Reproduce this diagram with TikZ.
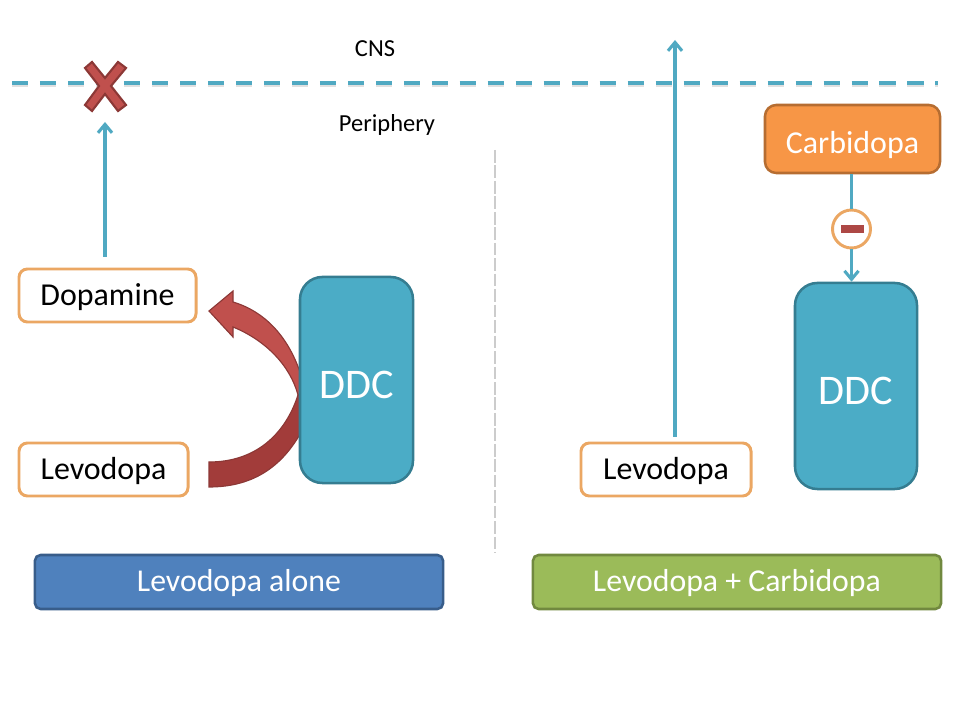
\documentclass[tikz,border=0pt]{standalone}
\usepackage{fontspec}
\setmainfont{Carlito}
\usepackage{xcolor}
\usetikzlibrary{arrows.meta}
\definecolor{tealfill}{HTML}{4BACC6}
\definecolor{tealline}{HTML}{50A9C2}
\definecolor{tealdark}{HTML}{357D91}
\definecolor{labelline}{HTML}{EBA763}
\definecolor{redfill}{HTML}{C0504D}
\definecolor{reddark}{HTML}{8C3836}
\definecolor{redlow}{HTML}{A23C3A}
\definecolor{bluefill}{HTML}{4F81BD}
\definecolor{bluedark}{HTML}{385D8A}
\definecolor{greenfill}{HTML}{9BBB59}
\definecolor{greendark}{HTML}{71893F}
\definecolor{orangefill}{HTML}{F79646}
\definecolor{orangedark}{HTML}{B66D31}
\tikzset{
    labelbox/.style={draw=labelline,line width=2.1pt,fill=white,rounded corners=6pt,font=\fontsize{22.7}{26}\selectfont,text height=18pt,text depth=3.2pt,minimum height=1.325cm,inner sep=0pt},
    enzyme/.style={draw=tealdark,line width=1.8pt,fill=tealfill,rounded corners=16pt,text=white,font=\fontsize{30}{34}\selectfont,text height=26pt,text depth=0pt,minimum height=5.15cm,inner sep=0pt},
    banner/.style={line width=1.8pt,rounded corners=4pt,text=white,minimum width=10.2cm,minimum height=1.35cm,font=\fontsize{22.6}{26}\selectfont,text height=17.5pt,text depth=3.3pt,inner sep=0pt},
    flow/.style={draw=tealline,line width=2.4pt,-{Straight Barb[length=6pt,width=10pt,line width=2.2pt]}},
    caption/.style={font=\fontsize{17.4}{20}\selectfont,inner sep=0pt,anchor=base}
}
\begin{document}
\begin{tikzpicture}[x=.025cm,y=-.025cm]
    \useasboundingbox (0,0) rectangle (960,720);
    \coordinate (barrierL) at (12,83);
    \coordinate (barrierR) at (938,83);
    \coordinate (stopbelow) at (105,122);
    \coordinate (stopstart) at (105,257);
    \coordinate (cnsstart) at (675,437);
    \coordinate (cnsend) at (675,40);
    \draw[black!40,line width=2.6pt,opacity=.3,dash pattern=on 11.5pt off 8.4pt] ([yshift=-1.3pt]barrierL) -- ([yshift=-1.3pt]barrierR);
    \draw[tealline,line width=2.8pt,dash pattern=on 11.5pt off 8.4pt] (barrierL) -- (barrierR);
    \node[caption] (cns) at (375,57) {CNS};
    \node[caption] (periphery) at (387,132) {Periphery};
    \draw[black!20,line width=.8pt,dash pattern=on 9pt off 2pt] (495,150) -- (495,553);
    % left side
    \node[labelbox,minimum width=4.425cm] (dopamine) at (107.5,295.5) {Dopamine};
    \node[labelbox,minimum width=4.225cm] (levodopaA) at (103.5,469.5) {Levodopa};
    \draw[flow] (stopstart) -- (stopbelow);
    \draw[fill=redfill,draw=reddark,line width=1.5pt] (92,62) -- (105,78) -- (118,62) -- (126,68) -- (111,86) -- (126,105) -- (118,111) -- (105,94) -- (92,111) -- (85,105) -- (99,86) -- (85,68) -- cycle;
    \draw[fill=redlow,draw=reddark,line width=.8pt] (209,462) .. controls (255,462) and (285,435) .. (298,395) -- (305,395) -- (305,425) .. controls (285,465) and (255,487) .. (209,487) -- cycle;
    \draw[fill=redfill,draw=reddark,line width=.8pt] (298,395) .. controls (290,365) and (265,340) .. (233,327) -- (233,337) -- (209,311) -- (233,291) -- (233,302) .. controls (270,313) and (295,345) .. (305,390) -- cycle;
    \node[enzyme,minimum width=2.825cm] (ddcA) at (356.5,380) {DDC};
    \node[banner,fill=bluefill,draw=bluedark] (aloneband) at (239,582) {Levodopa alone};
    % right side
    \node[labelbox,minimum width=4.25cm] (levodopaB) at (666,469.5) {Levodopa};
    \draw[flow] (cnsstart) -- (cnsend);
    \node[enzyme,minimum width=3.05cm] (ddcB) at (856,386) {DDC};
    \node[draw=orangedark,fill=orangefill,line width=1.8pt,rounded corners=8pt,text=white,font=\fontsize{22.7}{26}\selectfont,text height=24pt,text depth=3pt,minimum width=4.375cm,minimum height=1.7cm,inner sep=0pt] (carbidopa) at (852.5,139) {Carbidopa};
    \node[circle,draw=labelline,fill=white,line width=2.1pt,minimum size=.95cm,inner sep=0pt] (inhibit) at (851.5,229) {};
    \draw[tealline,line width=2.4pt] (carbidopa.south -| inhibit) -- (inhibit);
    \draw[flow] (inhibit) -- (ddcB.north -| inhibit);
    \fill[redfill!90!black] (841,225) rectangle (864,233);
    \node[banner,fill=greenfill,draw=greendark] (comboband) at (737,582) {Levodopa + Carbidopa};
\end{tikzpicture}
\end{document}
